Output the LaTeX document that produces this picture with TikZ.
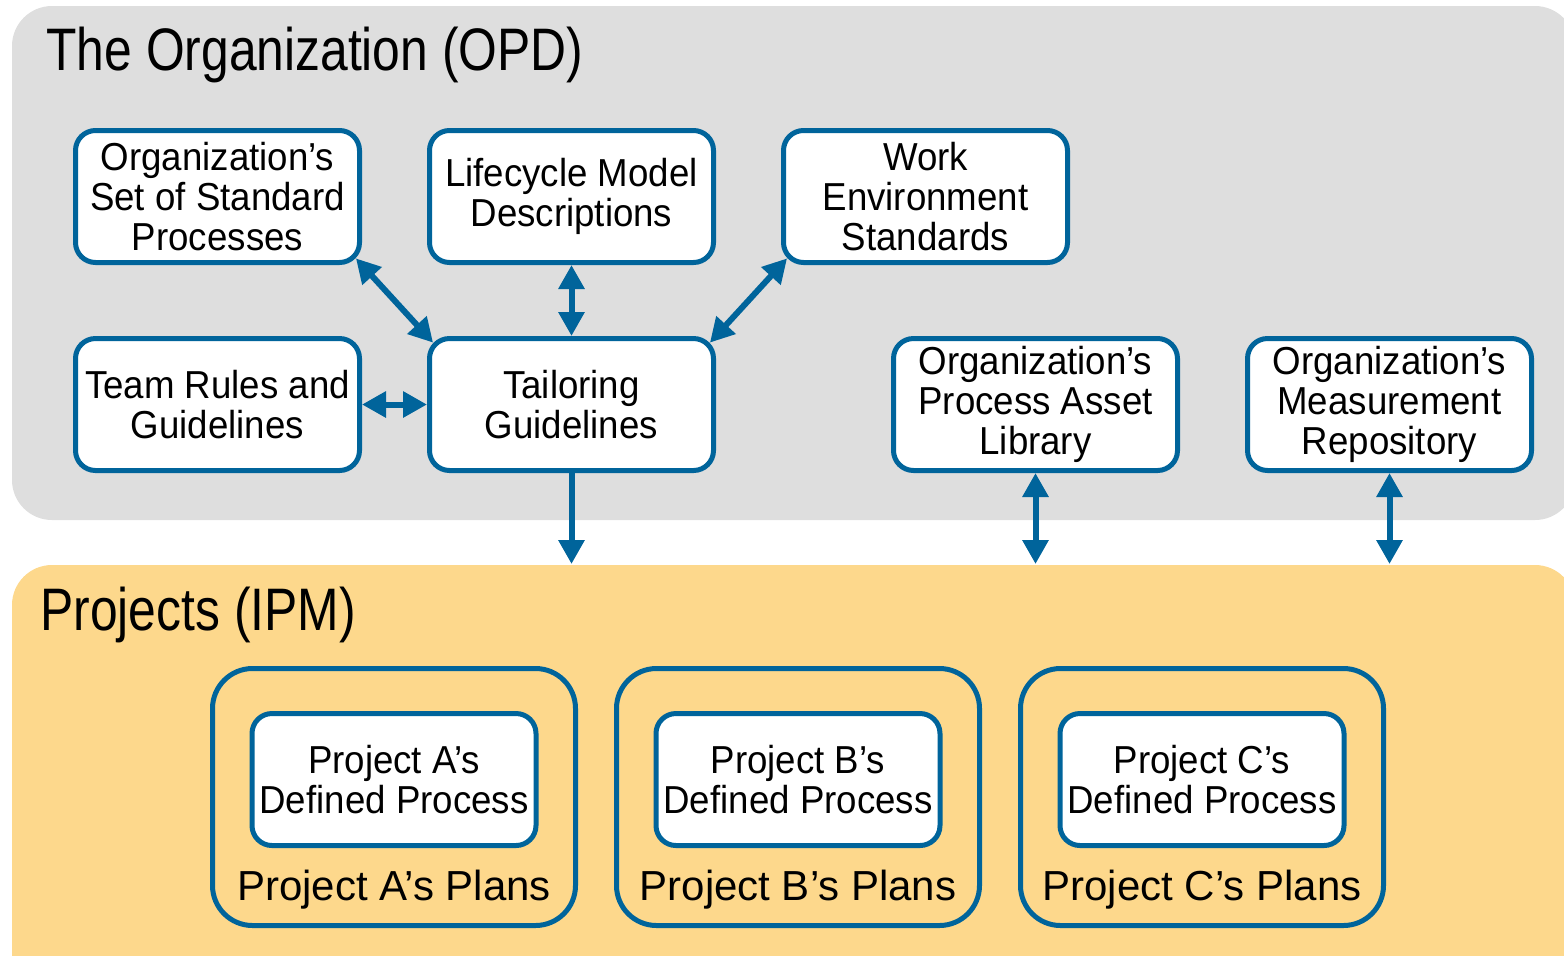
\documentclass[tikz,border=0pt]{standalone}
\usepackage{fontspec}
\setmainfont{Liberation Sans}
\newfontfamily\titlefont[FakeStretch=0.83]{Liberation Sans}
\newfontfamily\boxfont[FakeStretch=0.94]{Liberation Sans}
\usetikzlibrary{arrows.meta,positioning}
\definecolor{opdgray}{HTML}{DEDEDE}
\definecolor{ipmorange}{HTML}{FDD88C}
\definecolor{cmmiblue}{HTML}{00649B}

\begin{document}
\begin{tikzpicture}[x=0.5pt,y=-0.5pt,
    asset/.style={rectangle, rounded corners=10pt, draw=cmmiblue, line width=2.5pt,
      fill=white, minimum width=142pt, minimum height=66pt, inner sep=0pt,
      font=\boxfont\fontsize{19.5}{20}\selectfont, align=center},
    plan/.style={rectangle, rounded corners=20pt, draw=cmmiblue, line width=2.5pt,
      minimum width=181.5pt, minimum height=128.5pt},
    heading/.style={anchor=base west, inner sep=0pt, font=\titlefont\fontsize{30}{32}\selectfont},
    plans/.style={anchor=base, font=\fontsize{21}{23}\selectfont},
    link/.style={draw=cmmiblue, line width=3pt},
    >={Triangle[length=12pt,width=12.5pt]}]
  \useasboundingbox (0,0) rectangle (1564,955);
  \clip (0,0) rectangle (1564,955);
  \fill[opdgray, rounded corners=20pt] (12,6) rectangle (1575,520);
  \fill[ipmorange, rounded corners=20pt] (12,565) rectangle (1575,1000);
  \coordinate (ipmTop) at (0,564);

  \node[heading] (opdTitle) at (46,70) {The Organization (OPD)};
  \node[heading] (ipmTitle) at (40,630) {Projects (IPM)};

  \node[asset] (ossp) at (217.5,196.5) {Organization’s\\Set of Standard\\Processes};
  \node[asset, right=32.5pt of ossp] (lifecycle) {Lifecycle Model\\Descriptions};
  \node[asset, right=32.5pt of lifecycle] (workenv) {Work\\Environment\\Standards};
  \node[asset, below=35.5pt of ossp] (team) {Team Rules and\\Guidelines};
  \node[asset, below=35.5pt of lifecycle] (tailor) {Tailoring\\Guidelines};
  \node[asset, right=87.5pt of tailor] (opal) {Organization’s\\Process Asset\\Library};
  \node[asset, right=32.5pt of opal] (omr) {Organization’s\\Measurement\\Repository};

  \node[plan] (planA) at (394,797) {};
  \node[plan, right=18pt of planA] (planB) {};
  \node[plan, right=18pt of planB] (planC) {};
  \node[asset, below=22.5pt of planA.north] (procA) {Project A’s\\Defined Process};
  \node[asset, below=22.5pt of planB.north] (procB) {Project B’s\\Defined Process};
  \node[asset, below=22.5pt of planC.north] (procC) {Project C’s\\Defined Process};
  \node[plans] (plansA) at ([yshift=14pt]planA.south) {Project A’s Plans};
  \node[plans] (plansB) at ([yshift=14pt]planB.south) {Project B’s Plans};
  \node[plans] (plansC) at ([yshift=14pt]planC.south) {Project C’s Plans};

  \draw[link,<->,shorten <=-4.5pt,shorten >=-4.5pt] (ossp.south east) -- (tailor.north west);
  \draw[link,<->] (lifecycle) -- (tailor);
  \draw[link,<->,shorten <=-4.5pt,shorten >=-4.5pt] (workenv.south west) -- (tailor.north east);
  \draw[link,<->] (team) -- (tailor);
  \draw[link,->] (tailor) -- (tailor |- ipmTop);
  \draw[link,<->] (opal) -- (opal |- ipmTop);
  \draw[link,<->] (omr) -- (omr |- ipmTop);
\end{tikzpicture}
\end{document}
